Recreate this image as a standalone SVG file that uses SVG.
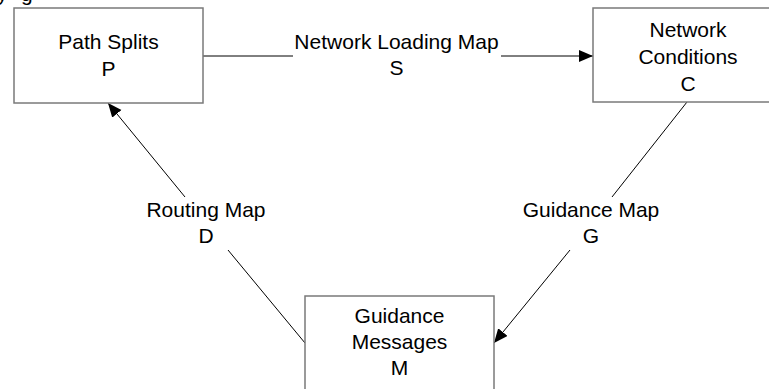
<svg xmlns="http://www.w3.org/2000/svg" width="769" height="389" viewBox="0 0 769 389">
  <style>
    .box { fill: #ffffff; stroke: #7a7a7a; stroke-width: 1.5; }
    .lbl { font-family: "Liberation Sans", Arial, sans-serif; font-size: 21px; fill: #000000; text-anchor: middle; }
    .edge { fill: none; stroke: #000000; stroke-width: 1; }
  </style>
  <defs>
    <marker id="arrow" markerUnits="userSpaceOnUse" markerWidth="15" markerHeight="13" refX="14" refY="6" orient="auto">
      <path d="M0,0 L14,6 L0,12 z" fill="#000000"/>
    </marker>
  </defs>
  <rect width="769" height="389" fill="#ffffff"/>

  <!-- heading fragments cut by the top edge -->
  <text x="-3" y="0.5" font-family="Liberation Sans, Arial, sans-serif" font-size="21">y</text>
  <text x="21" y="0.5" font-family="Liberation Sans, Arial, sans-serif" font-size="21">g</text>

  <!-- connectors -->
  <g id="connectors">
    <g id="edge-S">
      <line class="edge" x1="203" y1="56" x2="293" y2="56"/>
      <line class="edge" x1="501" y1="56" x2="593" y2="56" marker-end="url(#arrow)"/>
      <text class="lbl" x="396.5" y="49">Network Loading Map</text>
      <text class="lbl" x="396.5" y="75">S</text>
    </g>
    <g id="edge-D">
      <line class="edge" x1="305" y1="343" x2="228" y2="250"/>
      <line class="edge" x1="185" y1="197" x2="108" y2="103" marker-end="url(#arrow)"/>
      <text class="lbl" x="206" y="217">Routing Map</text>
      <text class="lbl" x="206" y="243">D</text>
    </g>
    <g id="edge-G">
      <line class="edge" x1="687" y1="102" x2="612" y2="197"/>
      <line class="edge" x1="570" y1="250" x2="494" y2="343" marker-end="url(#arrow)"/>
      <text class="lbl" x="591" y="217">Guidance Map</text>
      <text class="lbl" x="591" y="243">G</text>
    </g>
  </g>

  <!-- nodes -->
  <g id="node-P">
    <rect class="box" x="14" y="8" width="189" height="95"/>
    <text class="lbl" x="108.5" y="49">Path Splits</text>
    <text class="lbl" x="108.5" y="76">P</text>
  </g>
  <g id="node-C">
    <rect class="box" x="593" y="8" width="189" height="94"/>
    <text class="lbl" x="688" y="37">Network</text>
    <text class="lbl" x="688" y="64">Conditions</text>
    <text class="lbl" x="688" y="91">C</text>
  </g>
  <g id="node-M">
    <rect class="box" x="305" y="296" width="189" height="100"/>
    <text class="lbl" x="399.5" y="323">Guidance</text>
    <text class="lbl" x="399.5" y="349">Messages</text>
    <text class="lbl" x="399.5" y="375">M</text>
  </g>
</svg>
